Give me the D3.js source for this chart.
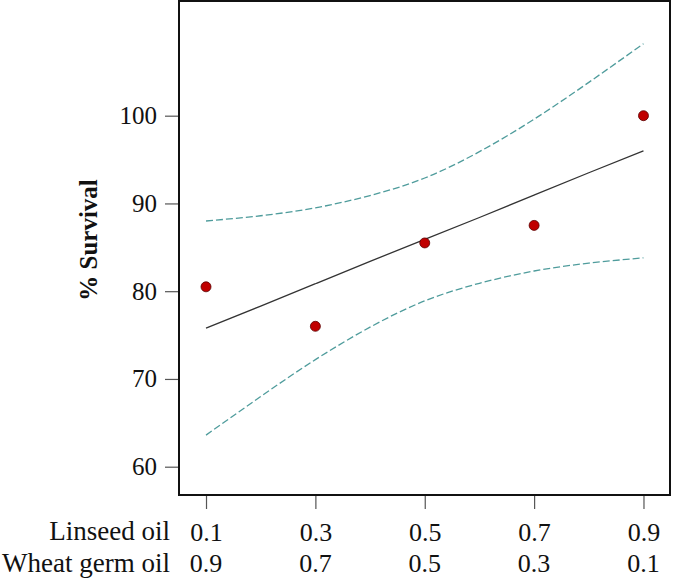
<!DOCTYPE html>
<html>
<head>
<meta charset="utf-8">
<script src="https://cdn.jsdelivr.net/npm/d3@7/dist/d3.min.js"></script>
<style>
  html, body { margin: 0; padding: 0; background: #fff; }
  svg { display: block; }
</style>
</head>
<body>
<svg id="chart" width="675" height="578"></svg>
<script>
// ---- data ----
const linseed = [0.1, 0.3, 0.5, 0.7, 0.9];
const wheatGerm = [0.9, 0.7, 0.5, 0.3, 0.1];
const survival = [80.5, 76.0, 85.5, 87.5, 100.0];

const curveX = [0.1, 0.2, 0.3, 0.4, 0.5, 0.6, 0.7, 0.8, 0.9];
const fitY   = [75.8, 78.3, 80.85, 83.4, 85.9, 88.4, 90.95, 93.5, 96.0];
const upperY = [88.0, 88.6, 89.5, 90.9, 92.9, 95.9, 99.6, 103.8, 108.2];
const lowerY = [63.6, 68.0, 72.2, 75.9, 78.9, 80.9, 82.3, 83.2, 83.8];

const yTicks = [60, 70, 80, 90, 100];

// ---- layout ----
const svg = d3.select("#chart");
const plotL = 179, plotR = 670, plotT = 1, plotB = 495;
const serif = "'Liberation Serif', 'Times New Roman', serif";

const x = d3.scaleLinear().domain([0.0506, 0.9485]).range([plotL, plotR]);
const y = d3.scaleLinear().domain([56.775, 113.07]).range([plotB, plotT]);

// y axis
const yAxis = svg.append("g")
  .attr("transform", `translate(${plotL},0)`)
  .call(d3.axisLeft(y).tickValues(yTicks).tickSize(14).tickPadding(8).tickFormat(d3.format("d")));
yAxis.select(".domain").remove();
yAxis.selectAll(".tick line").attr("stroke", "#555").attr("stroke-width", 1.2);
yAxis.selectAll(".tick text").attr("font-family", serif).attr("font-size", 25).attr("fill", "#111");

// x axis (Linseed oil row)
const xAxis = svg.append("g")
  .attr("transform", `translate(0,${plotB})`)
  .call(d3.axisBottom(x).tickValues(linseed).tickSize(14).tickPadding(14).tickFormat(d3.format(".1f")));
xAxis.select(".domain").remove();
xAxis.selectAll(".tick line").attr("stroke", "#555").attr("stroke-width", 1.2);
xAxis.selectAll(".tick text").attr("font-family", serif).attr("font-size", 26).attr("fill", "#111");

// Wheat germ oil row
svg.append("g").selectAll("text")
  .data(linseed)
  .join("text")
  .attr("x", d => x(d))
  .attr("y", 572)
  .attr("text-anchor", "middle")
  .attr("font-family", serif)
  .attr("font-size", 26)
  .attr("fill", "#111")
  .text((d, i) => d3.format(".1f")(wheatGerm[i]));

// row labels
svg.append("text").attr("x", 170).attr("y", 540).attr("text-anchor", "end")
  .attr("font-family", serif).attr("font-size", 27).attr("fill", "#111").text("Linseed oil");
svg.append("text").attr("x", 170).attr("y", 572).attr("text-anchor", "end")
  .attr("font-family", serif).attr("font-size", 27).attr("fill", "#111").text("Wheat germ oil");

// y title
svg.append("text")
  .attr("transform", `translate(97,240) rotate(-90)`)
  .attr("text-anchor", "middle")
  .attr("font-family", serif).attr("font-size", 25).attr("font-weight", "bold").attr("fill", "#111")
  .text("% Survival");

// curves
const line = d3.line().x(d => x(d[0])).y(d => y(d[1])).curve(d3.curveNatural);
const toPts = arr => curveX.map((v, i) => [v, arr[i]]);

svg.append("path").attr("d", line(toPts(upperY)))
  .attr("fill", "none").attr("stroke", "#4f9c9c").attr("stroke-width", 1.3).attr("stroke-dasharray", "7,3");
svg.append("path").attr("d", line(toPts(lowerY)))
  .attr("fill", "none").attr("stroke", "#4f9c9c").attr("stroke-width", 1.3).attr("stroke-dasharray", "7,3");
svg.append("path").attr("d", line(toPts(fitY)))
  .attr("fill", "none").attr("stroke", "#333").attr("stroke-width", 1.3);

// points
svg.append("g").selectAll("circle")
  .data(linseed)
  .join("circle")
  .attr("cx", d => x(d))
  .attr("cy", (d, i) => y(survival[i]))
  .attr("r", 5)
  .attr("fill", "#c00000")
  .attr("stroke", "#5a0000")
  .attr("stroke-width", 0.8);

// frame
svg.append("rect")
  .attr("x", plotL).attr("y", plotT)
  .attr("width", plotR - plotL).attr("height", plotB - plotT)
  .attr("fill", "none").attr("stroke", "#111").attr("stroke-width", 2);
</script>
</body>
</html>
